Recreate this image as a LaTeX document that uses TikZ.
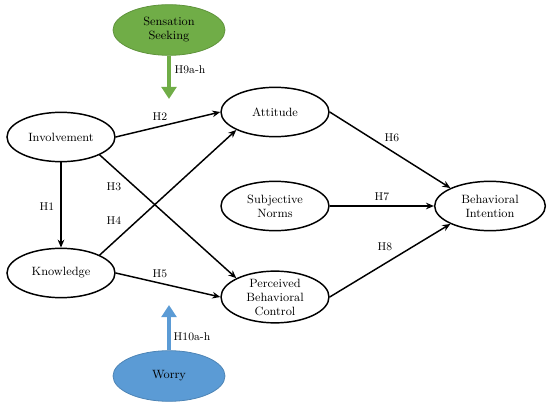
\documentclass[tikz,border=0pt]{standalone}
\usepackage{tikz}
\usetikzlibrary{
  shapes.geometric,
  arrows.meta,
  positioning
}
\definecolor{SeekGreen}{HTML}{70AD47}
\definecolor{WorryBlue}{HTML}{5B9BD5}
\tikzset{
  % Construct ellipse
  cons/.style={
    ellipse, draw=black, line width=1.1pt, fill=white,
    minimum width=81pt, minimum height=37pt, inner sep=0pt,
    align=center, font=\fontsize{9}{10.5}\selectfont
  },
  % Moderator ellipse
  moder/.style={
    ellipse, draw=#1!85!black, line width=0.6pt, fill=#1,
    minimum width=84pt, minimum height=38pt, inner sep=0pt,
    align=center, font=\fontsize{9}{10.5}\selectfont
  },
  % Path arrow
  arr/.style={
    -{Stealth[length=6pt,width=5pt]},
    line width=1.1pt, color=black
  },
  % Moderator arrow
  marr/.style={
    -{Triangle[length=9pt,width=11pt]},
    line width=3.6pt, color=#1
  },
  % Hypothesis label
  lbl/.style={font=\fontsize{8.5}{9.5}\selectfont, inner sep=1pt}
}
\begin{document}
\begin{tikzpicture}[x=0.75pt, y=-0.75pt]
  \useasboundingbox (0,0) rectangle (550,406);

  % Constructs
  \node[cons] (inv)  at (61,137)  {Involvement};
  \node[cons] (know) at (61,273)  {Knowledge};
  \node[cons] (att)  at (275,112) {Attitude};
  \node[cons] (sn)   at (275,206) {Subjective\\Norms};
  \node[cons] (pbc)  at (275,297) {Perceived\\Behavioral\\Control};
  \node[cons, minimum width=83pt] (bi) at (490,206) {Behavioral\\Intention};

  % Moderators
  \node[moder=SeekGreen] (ss)    at (169,30)  {Sensation\\Seeking};
  \node[moder=WorryBlue] (worry) at (169,376) {Worry};
  \coordinate (sstip)    at (169,99);
  \coordinate (worrytip) at (169,305);
  \draw[marr=SeekGreen] (ss.south) -- (sstip);
  \draw[marr=WorryBlue] (worry.north) -- (worrytip);
  \node[lbl] (h9)  at (190,70)  {H9a-h};
  \node[lbl] (h10) at (192,337) {H10a-h};

  % Paths
  \draw[arr] (inv.east) -- (att.west);
  \draw[arr] (inv) -- (know);
  \draw[arr] (inv.south east) -- (pbc.north west);
  \draw[arr] (know.north east) -- (att.south west);
  \draw[arr] (know.east) -- (pbc.west);
  \draw[arr] (att.east) -- (bi.north west);
  \draw[arr] (sn.east) -- (bi.west);
  \draw[arr] (pbc.east) -- (bi.south west);

  % Hypothesis labels
  \node[lbl] (h1) at (47,207)  {H1};
  \node[lbl] (h2) at (160,117) {H2};
  \node[lbl] (h3) at (114,187) {H3};
  \node[lbl] (h4) at (114,221) {H4};
  \node[lbl] (h5) at (160,274) {H5};
  \node[lbl] (h6) at (392,138) {H6};
  \node[lbl] (h7) at (382,197) {H7};
  \node[lbl] (h8) at (385,247) {H8};

\end{tikzpicture}
\end{document}
